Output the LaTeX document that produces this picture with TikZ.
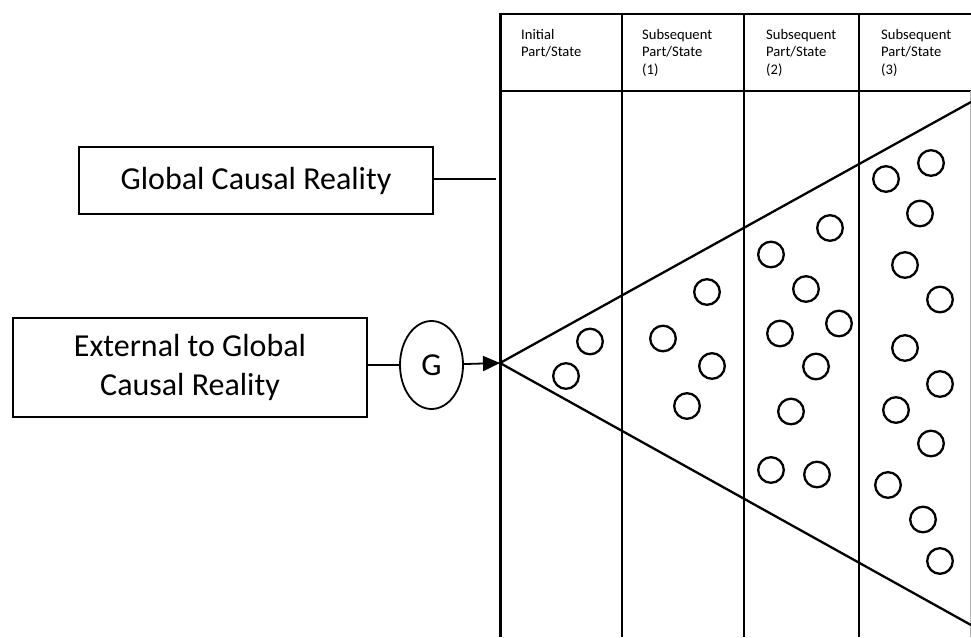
\documentclass[tikz,border=0pt]{standalone}
\usepackage{fontspec}
\setmainfont{Carlito}
\usetikzlibrary{shapes.geometric,arrows.meta}
\tikzset{
  box/.style={draw, line width=1.5pt, inner sep=0pt, align=center, font=\fontsize{32}{39}\selectfont},
  gnode/.style={draw, ellipse, line width=1.8pt, inner sep=0pt, minimum width=63pt, minimum height=88pt, font=\fontsize{32}{39}\selectfont},
  conn/.style={line width=1.5pt},
  tline/.style={line width=2pt},
  mainline/.style={line width=3pt},
  cone/.style={line width=2.3pt},
  dot/.style={line width=2.3pt},
  hdr/.style={anchor=base west, inner sep=0pt, font=\fontsize{14.6}{17.5}\selectfont},
  arr/.style={line width=1.8pt, -{Triangle[length=17pt,width=15pt]}}
}
\newcommand{\hdrtext}[1]{\begin{tabular}[t]{@{}l@{}}#1\end{tabular}}
\begin{document}
\begin{tikzpicture}[x=1pt,y=-1pt]
\useasboundingbox (0,0) rectangle (971,637);
% table
\draw[tline] (500,14) -- (971,14);
\draw[tline] (500,91) -- (971,91);
\draw[tline] (622,14) -- (622,637);
\draw[tline] (744,14) -- (744,637);
\draw[tline] (859,14) -- (859,637);
\draw[line width=0.8pt, black!30] (970.5,91) -- (970.5,637);
\draw[mainline] (500,12.5) -- (500,637);
% headers
\node[hdr] (h0) at (521,39) {\hdrtext{Initial\\Part/State}};
\node[hdr] (h1) at (642,39) {\hdrtext{Subsequent\\Part/State\\(1)}};
\node[hdr] (h2) at (766,39) {\hdrtext{Subsequent\\Part/State\\(2)}};
\node[hdr] (h3) at (881,39) {\hdrtext{Subsequent\\Part/State\\(3)}};
% cone
\coordinate (apex) at (500,363);
\coordinate (ctop) at (971,102);
\coordinate (cbot) at (971,625);
\draw[cone] (ctop) -- (apex) -- (cbot);
% circles
\foreach \x/\y in {590/341.5, 566/376,
  663/338.5, 707/292, 712/366, 687/406,
  771/254.5, 830/228, 806/289, 780/333.5, 839/323.5, 816/366.5, 791/411.5, 771/470, 817/474.5,
  886/179, 931/163, 920/213.5, 905/265, 940/299.5, 905/348, 940/384, 896/410, 931/443.5, 888/485, 923/519.5, 940/561}
  \draw[dot] (\x,\y) circle (12.8);
% left side
\node[box, minimum width=354pt, minimum height=67pt] (gcr) at (256,180.5) {Global Causal Reality};
\coordinate (gend) at (496,179);
\draw[conn] (gcr.east |- gend) -- (gend);
\node[box, minimum width=354pt, minimum height=99pt] (ext) at (190,367.5) {External to Global\\Causal Reality};
\node[gnode] (G) at (431.5,365) {G};
\draw[conn] (ext.east |- G) -- (G);
\draw[arr] (G) -- (apex);
\end{tikzpicture}
\end{document}
